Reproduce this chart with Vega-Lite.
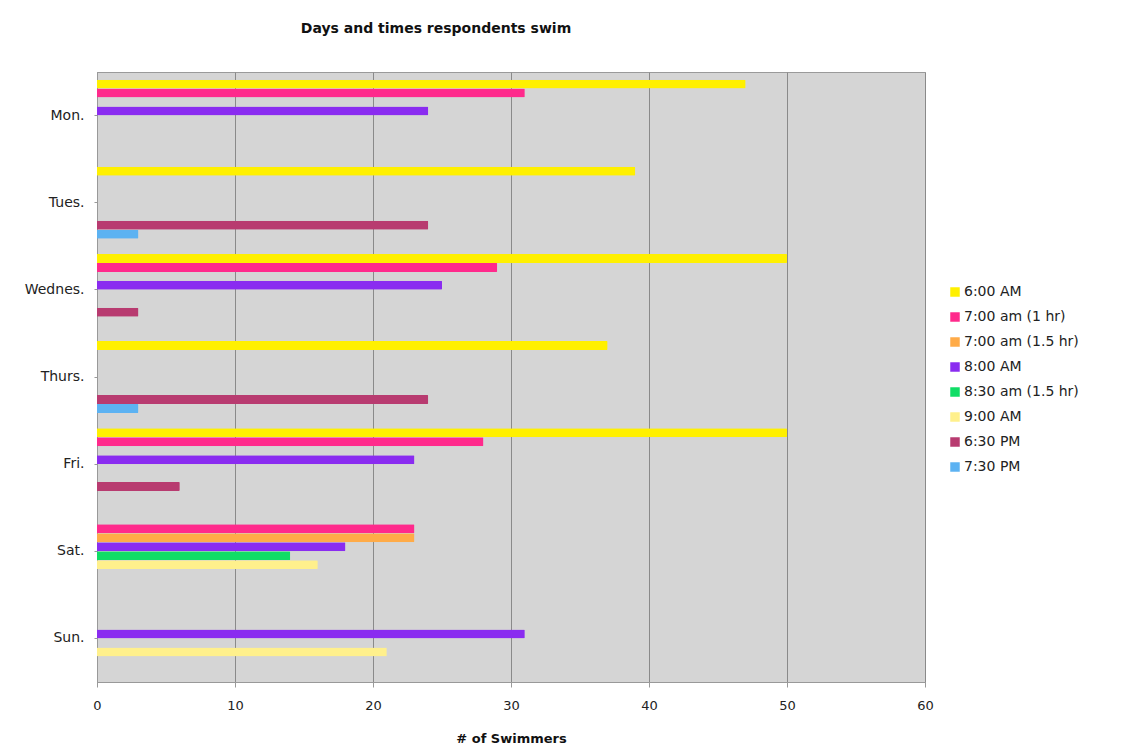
{
  "$schema": "https://vega.github.io/schema/vega-lite/v6.json",
  "autosize": {"type": "none"},
  "padding": {"left": 97, "top": 72, "right": 201, "bottom": 65},
  "width": 828,
  "height": 610,
  "background": "white",
  "title": {
    "text": "Days and times respondents swim",
    "font": "DejaVu Sans",
    "fontSize": 14,
    "fontWeight": "bold",
    "color": "#111",
    "anchor": "middle",
    "dx": -75,
    "offset": 36
  },
  "config": {
    "font": "DejaVu Sans",
    "view": {"fill": "#d5d5d5", "stroke": "#9a9a9a", "strokeWidth": 1}
  },
  "data": {
    "values": [
      {"day": "Mon.", "time": "6:00 AM", "count": 47},
      {"day": "Mon.", "time": "7:00 am (1 hr)", "count": 31},
      {"day": "Mon.", "time": "8:00 AM", "count": 24},
      {"day": "Tues.", "time": "6:00 AM", "count": 39},
      {"day": "Tues.", "time": "6:30 PM", "count": 24},
      {"day": "Tues.", "time": "7:30 PM", "count": 3},
      {"day": "Wednes.", "time": "6:00 AM", "count": 50},
      {"day": "Wednes.", "time": "7:00 am (1 hr)", "count": 29},
      {"day": "Wednes.", "time": "8:00 AM", "count": 25},
      {"day": "Wednes.", "time": "6:30 PM", "count": 3},
      {"day": "Thurs.", "time": "6:00 AM", "count": 37},
      {"day": "Thurs.", "time": "6:30 PM", "count": 24},
      {"day": "Thurs.", "time": "7:30 PM", "count": 3},
      {"day": "Fri.", "time": "6:00 AM", "count": 50},
      {"day": "Fri.", "time": "7:00 am (1 hr)", "count": 28},
      {"day": "Fri.", "time": "8:00 AM", "count": 23},
      {"day": "Fri.", "time": "6:30 PM", "count": 6},
      {"day": "Sat.", "time": "7:00 am (1 hr)", "count": 23},
      {"day": "Sat.", "time": "7:00 am (1.5 hr)", "count": 23},
      {"day": "Sat.", "time": "8:00 AM", "count": 18},
      {"day": "Sat.", "time": "8:30 am (1.5 hr)", "count": 14},
      {"day": "Sat.", "time": "9:00 AM", "count": 16},
      {"day": "Sun.", "time": "8:00 AM", "count": 31},
      {"day": "Sun.", "time": "9:00 AM", "count": 21}
    ]
  },
  "mark": {"type": "bar", "cornerRadiusEnd": 1},
  "encoding": {
    "y": {
      "field": "day",
      "type": "nominal",
      "scale": {
        "domain": ["Mon.", "Tues.", "Wednes.", "Thurs.", "Fri.", "Sat.", "Sun."],
        "paddingInner": 0,
        "paddingOuter": 0
      },
      "axis": {
        "title": null,
        "labelFontSize": 14,
        "labelColor": "#222",
        "labelPadding": 10,
        "tickSize": 3,
        "tickColor": "#999",
        "domainColor": "#999",
        "grid": false
      }
    },
    "yOffset": {
      "field": "time",
      "type": "nominal",
      "scale": {
        "domain": ["6:00 AM", "7:00 am (1 hr)", "7:00 am (1.5 hr)", "8:00 AM", "8:30 am (1.5 hr)", "9:00 AM", "6:30 PM", "7:30 PM"],
        "paddingInner": 0,
        "paddingOuter": 0.85
      }
    },
    "x": {
      "field": "count",
      "type": "quantitative",
      "scale": {"domain": [0, 60], "nice": false},
      "axis": {
        "title": "# of Swimmers",
        "titleFontSize": 13,
        "titleFontWeight": "bold",
        "titleColor": "#111",
        "titlePadding": 20,
        "values": [0, 10, 20, 30, 40, 50, 60],
        "labelFontSize": 13,
        "labelColor": "#222",
        "labelPadding": 12,
        "labelFlush": false,
        "tickSize": 5,
        "tickColor": "#999",
        "domainColor": "#999",
        "grid": true,
        "gridColor": "#8a8a8a",
        "gridWidth": 1
      }
    },
    "color": {
      "field": "time",
      "type": "nominal",
      "scale": {
        "domain": ["6:00 AM", "7:00 am (1 hr)", "7:00 am (1.5 hr)", "8:00 AM", "8:30 am (1.5 hr)", "9:00 AM", "6:30 PM", "7:30 PM"],
        "range": ["#fff000", "#ff2a8c", "#ffab48", "#8a2cf0", "#10dd66", "#fff08c", "#b83b70", "#5cb2f2"]
      },
      "legend": {
        "title": null,
        "orient": "none",
        "legendX": 851,
        "legendY": 213,
        "symbolType": "square",
        "symbolSize": 90,
        "symbolStrokeWidth": 0,
        "labelFontSize": 14,
        "labelColor": "#222",
        "labelOffset": 2,
        "rowPadding": 11
      }
    }
  }
}
